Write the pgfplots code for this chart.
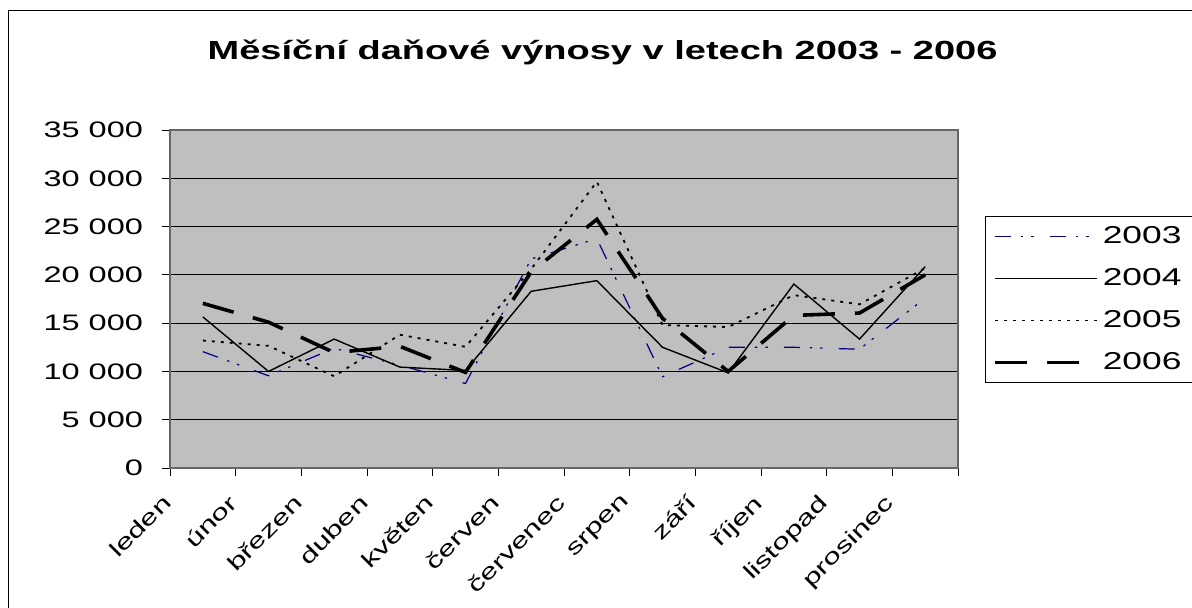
\documentclass[border=0pt]{standalone}
\usepackage{fontspec}
\setmainfont{Liberation Sans}[FakeStretch=1.45]
\newfontfamily\plainsans{Liberation Sans}
\usepackage{pgfplots}
\pgfplotsset{compat=1.18}
\pgfplotstableread{
x y2003 y2004 y2005 y2006
0 12050 15650 13200 17050
1 9550 10000 12650 15100
2 12400 13350 9500 11950
3 10650 10450 13800 12600
4 8750 10100 12550 9900
5 21650 18300 20600 20300
6 23750 19400 29650 25750
7 9450 12500 14800 15500
8 12500 9850 14600 10000
9 12500 19050 17900 15800
10 12300 13350 16950 16050
11 17600 20850 20700 20000
}\datatable
\begin{document}
\begin{tikzpicture}
\path[use as bounding box] (0,0) rectangle (596pt,303.5pt);
\draw[line width=0.5pt] (4.3pt,-5pt) -- (4.3pt,298.3pt) -- (610pt,298.3pt);
\begin{axis}[
  at={(85pt,69.5pt)}, anchor=south west,
  scale only axis, width=394pt, height=169pt,
  xmin=-0.5, xmax=11.5, ymin=0, ymax=35000,
  axis background/.style={fill=black!25},
  axis line style={draw=black!60, line width=0.9pt},
  tick align=outside, major tick length=4pt, tick pos=left,
  tick style={black, line width=0.5pt},
  scaled y ticks=false,
  xtick={-0.5,0.5,...,11.5},
  xticklabels={leden,únor,březen,duben,květen,červen,červenec,srpen,září,říjen,listopad,prosinec,{}},
  xticklabel style={font=\fontsize{10.8}{12}\selectfont, anchor=north east, rotate=45, inner sep=1pt, xshift=-8pt, yshift=-2pt},
  ytick={0,5000,...,35000},
  yticklabels={0,5 000,10 000,15 000,20 000,25 000,30 000,35 000},
  yticklabel style={font=\fontsize{11.2}{13}\selectfont, anchor=east},
  yticklabel shift=6pt,
  /pgf/number format/assume math mode=true,
  ymajorgrids, grid style={black, line width=0.5pt},
  title={Měsíční daňové výnosy v letech 2003 - 2006},
  title style={at={(axis description cs:0.549,1.172)}, anchor=base, yshift=0pt, font=\fontsize{13.1}{15}\selectfont\bfseries},
  legend style={at={(axis description cs:1.034,0.7456)}, anchor=north west, draw=black, fill=white, font=\fontsize{12.2}{14}\selectfont, inner xsep=4pt, inner ysep=3pt, row sep=7pt},
  legend cell align=left,
  legend image code/.code={\draw[#1] (0pt,0pt) -- (51pt,0pt);},
]
\addplot[color={rgb,255:red,0;green,0;blue,128}, line width=0.6pt, dash pattern=on 8pt off 5pt on 1.2pt off 4pt on 1.2pt off 8pt] table[x=x,y=y2003] {\datatable};
\addlegendentry{2003}
\addplot[black, line width=0.7pt] table[x=x,y=y2004] {\datatable};
\addlegendentry{2004}
\addplot[black, line width=0.9pt, dash pattern=on 1.5pt off 3pt] table[x=x,y=y2005] {\datatable};
\addlegendentry{2005}
\addplot[black, line width=1.8pt, dash pattern=on 16pt off 10pt] table[x=x,y=y2006] {\datatable};
\addlegendentry{2006}
\end{axis}
\end{tikzpicture}
\end{document}
